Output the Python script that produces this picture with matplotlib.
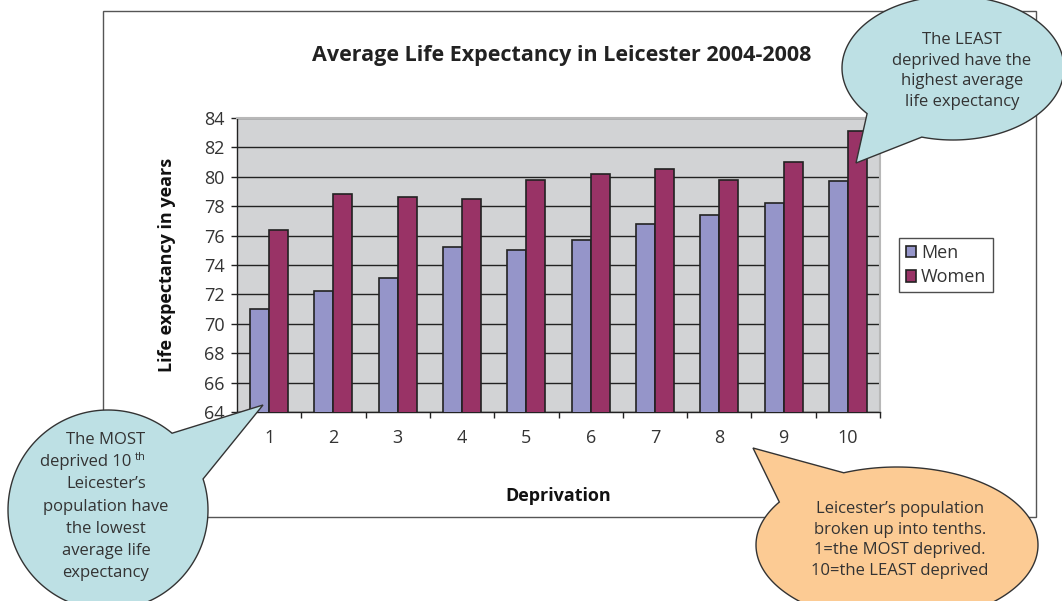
import numpy as np
import matplotlib
matplotlib.use("Agg")
import matplotlib.pyplot as plt
from matplotlib.patches import Polygon, Rectangle

plt.rcParams['font.family'] = ['Open Sans', 'DejaVu Sans']

categories = ['1', '2', '3', '4', '5', '6', '7', '8', '9', '10']
men = [71.0, 72.2, 73.1, 75.2, 75.0, 75.7, 76.8, 77.4, 78.2, 79.7]
women = [76.4, 78.8, 78.6, 78.5, 79.8, 80.2, 80.5, 79.8, 81.0, 83.1]
y_ticks = [64, 66, 68, 70, 72, 74, 76, 78, 80, 82, 84]

W, H = 1062, 601
fig = plt.figure(figsize=(W / 100, H / 100), dpi=100)
fig.patch.set_facecolor('white')

def fx(px):
    return px / W

def fy(py):
    return 1 - py / H

L, T, R, B = 237, 118, 880, 412
ax = fig.add_axes([fx(L), fy(B), (R - L) / W, (B - T) / H])
ax.set_facecolor('#D2D3D5')

x = np.arange(1, len(categories) + 1)
bw = 0.295
ax.bar(x - bw / 2, men, bw, bottom=0, color='#9595C9', edgecolor='#222222',
       linewidth=1.2, label='Men', zorder=3)
ax.bar(x + bw / 2, women, bw, bottom=0, color='#993366', edgecolor='#222222',
       linewidth=1.2, label='Women', zorder=3)

ax.set_ylim(64, 84)
ax.set_xlim(0.5, len(categories) + 0.5)
ax.set_yticks(y_ticks)
ax.set_yticklabels([str(v) for v in y_ticks], fontsize=13, color='#333333')
ax.set_xticks(x)
ax.set_xticklabels(categories, fontsize=13, color='#333333')
ax.set_xticks(np.arange(0.5, len(categories) + 1, 1), minor=True)
ax.tick_params(axis='x', which='major', length=0, pad=12)
ax.tick_params(axis='x', which='minor', length=4, width=1, direction='out', color='#222222')
ax.tick_params(axis='y', which='major', length=4, width=1, direction='out', pad=5, color='#222222')
ax.yaxis.grid(True, color='#222222', linewidth=1, zorder=1)
ax.set_axisbelow(True)
for s in ['top', 'right']:
    ax.spines[s].set_color('#B8B8B8')
    ax.spines[s].set_linewidth(1.5)
for s in ['left', 'bottom']:
    ax.spines[s].set_color('#222222')
    ax.spines[s].set_linewidth(1)

ax.set_ylabel('Life expectancy in years', fontsize=13, fontweight='bold', color='#111111')
ax.yaxis.set_label_coords((176 - L) / (R - L), 0.5)
ax.set_xlabel('Deprivation', fontsize=13, fontweight='bold', color='#111111')
ax.xaxis.set_label_coords(0.5, (B - 487) / (B - T))

leg = ax.legend(loc='center', bbox_to_anchor=(fx(946), fy(265)), bbox_transform=fig.transFigure,
                fontsize=13, frameon=True, fancybox=False, edgecolor='#222222',
                handlelength=0.6, handleheight=0.6, handletextpad=0.25,
                borderpad=0.35, labelspacing=0.35, labelcolor='#333333')
leg.get_frame().set_linewidth(1)

fig.text(fx(562), fy(55), 'Average Life Expectancy in Leicester 2004-2008',
         ha='center', va='center', fontsize=15.5, fontweight='bold', color='#222222')

# overlay for border and callouts
ov = fig.add_axes([0, 0, 1, 1], zorder=10)
ov.set_xlim(0, W)
ov.set_ylim(H, 0)
ov.axis('off')
ov.patch.set_alpha(0)

ov.add_patch(Rectangle((103, 11), 1036 - 103, 517 - 11, fill=False,
                       edgecolor='#555555', linewidth=1, zorder=1))

def callout(cx, cy, a, b, tx, ty, delta, color):
    th = np.arctan2((ty - cy) / b, (tx - cx) / a)
    ts = np.linspace(th + delta, th - delta + 2 * np.pi, 200)
    pts = np.column_stack([cx + a * np.cos(ts), cy + b * np.sin(ts)])
    pts = np.vstack([pts, [tx, ty]])
    ov.add_patch(Polygon(pts, closed=True, facecolor=color, edgecolor='#333333',
                         linewidth=1, zorder=5))

tc = '#333333'
callout(108, 510, 100, 100, 263, 405, 0.28, '#BDE0E4')
left_lines = ['The MOST', None, 'Leicester\u2019s', 'population have',
              'the lowest', 'average life', 'expectancy']
y0, dy = 440, 22.2
for i, line in enumerate(left_lines):
    yy = y0 + i * dy
    if line is None:
        ov.text(131, yy, 'deprived 10', ha='right', va='center', fontsize=12,
                color=tc, zorder=6)
        ov.text(135, yy - 5, 'th', ha='left', va='center', fontsize=8,
                color=tc, zorder=6)
    else:
        ov.text(106, yy, line, ha='center', va='center', fontsize=12,
                color=tc, zorder=6)

callout(953, 68, 111, 72, 856, 163, 0.3, '#BDE0E4')
ov.text(962, 71, 'The LEAST\ndeprived have the\nhighest average\nlife expectancy',
        ha='center', va='center', fontsize=12, color=tc, linespacing=1.38, zorder=6)

callout(897, 545, 141, 78, 753, 448, 0.3, '#FCCB94')
ov.text(900, 540, 'Leicester\u2019s population\nbroken up into tenths.\n1=the MOST deprived.\n10=the LEAST deprived',
        ha='center', va='center', fontsize=12, color=tc, linespacing=1.38, zorder=6)

fig.savefig('out.png', dpi=100)
